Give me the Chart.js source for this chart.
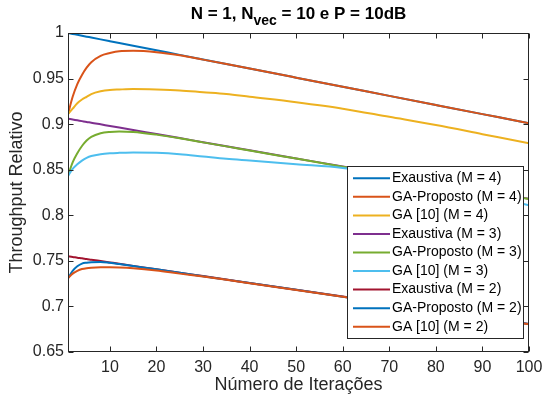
<!DOCTYPE html>
<html>
<head>
<meta charset="utf-8">
<script src="https://cdn.jsdelivr.net/npm/chart.js@4.4.1/dist/chart.umd.min.js"></script>
<style>
  html, body { margin: 0; padding: 0; background: #fff; }
  #wrap { width: 544px; height: 408px; }
</style>
</head>
<body>
<div id="wrap"><canvas id="thrChart" width="544" height="408"></canvas></div>
<script>
// iterations where each curve was sampled
const iterations = [1, 2, 3, 4, 5, 6, 8, 10, 12, 15, 20, 25, 30, 35, 40, 50, 60, 70, 80, 90, 100];

// M = 4
const exaustivaM4 = [1.000, 0.999, 0.998, 0.997, 0.996, 0.995, 0.993, 0.991, 0.989, 0.986, 0.981, 0.976, 0.971, 0.966, 0.961, 0.951, 0.941, 0.931, 0.921, 0.911, 0.901];
const gaPropostoM4 = [0.911, 0.930, 0.944, 0.954, 0.962, 0.968, 0.975, 0.978, 0.980, 0.9805, 0.979, 0.9755, 0.9708, 0.966, 0.961, 0.951, 0.941, 0.931, 0.921, 0.911, 0.901];
const ga10M4 = [0.911, 0.917, 0.923, 0.927, 0.930, 0.933, 0.936, 0.9375, 0.938, 0.9385, 0.938, 0.937, 0.935, 0.933, 0.930, 0.924, 0.917, 0.908, 0.899, 0.889, 0.879];

// M = 3
const exaustivaM3 = [0.9060, 0.9051, 0.9042, 0.9033, 0.9024, 0.9016, 0.8998, 0.8980, 0.8962, 0.8936, 0.8891, 0.8847, 0.8802, 0.8758, 0.8713, 0.8624, 0.8535, 0.8447, 0.8358, 0.8269, 0.8180];
const gaPropostoM3 = [0.8435, 0.858, 0.868, 0.876, 0.882, 0.886, 0.890, 0.8915, 0.892, 0.8915, 0.8885, 0.8845, 0.8800, 0.8756, 0.8711, 0.8622, 0.8533, 0.8445, 0.8356, 0.8267, 0.8178];
const ga10M3 = [0.843, 0.851, 0.856, 0.860, 0.863, 0.865, 0.867, 0.868, 0.8685, 0.869, 0.8685, 0.867, 0.8645, 0.862, 0.860, 0.856, 0.852, 0.845, 0.835, 0.823, 0.811];

// M = 2
const exaustivaM2 = [0.7550, 0.7543, 0.7535, 0.7528, 0.7520, 0.7513, 0.7498, 0.7483, 0.7468, 0.7445, 0.7408, 0.7370, 0.7333, 0.7295, 0.7258, 0.7183, 0.7108, 0.7033, 0.6958, 0.6883, 0.6808];
const gaPropostoM2 = [0.731, 0.739, 0.744, 0.747, 0.748, 0.7485, 0.7487, 0.7478, 0.7465, 0.7443, 0.7407, 0.7369, 0.7332, 0.7294, 0.7257, 0.7182, 0.7107, 0.7032, 0.6957, 0.6882, 0.6807];
const ga10M2 = [0.731, 0.736, 0.739, 0.741, 0.742, 0.7425, 0.743, 0.743, 0.7428, 0.742, 0.7395, 0.736, 0.7328, 0.7292, 0.7255, 0.718, 0.7105, 0.703, 0.6955, 0.688, 0.6805];

const seriesLabels = [
  'Exaustiva (M = 4)', 'GA-Proposto (M = 4)', 'GA [10] (M = 4)',
  'Exaustiva (M = 3)', 'GA-Proposto (M = 3)', 'GA [10] (M = 3)',
  'Exaustiva (M = 2)', 'GA-Proposto (M = 2)', 'GA [10] (M = 2)'
];
const seriesColors = ['#0072BD', '#D95319', '#EDB120', '#7E2F8E', '#77AC30', '#4DBEEE', '#A2142F', '#0072BD', '#D95319'];

const xTicks = [10, 20, 30, 40, 50, 60, 70, 80, 90, 100];
const yTicks = [0.65, 0.7, 0.75, 0.8, 0.85, 0.9, 0.95, 1];
const yTickLabels = ['0.65', '0.7', '0.75', '0.8', '0.85', '0.9', '0.95', '1'];

const FONT = '"Liberation Sans", Arial, Helvetica, sans-serif';
const AXIS_COLOR = '#262626';

const seriesValues = [exaustivaM4, gaPropostoM4, ga10M4, exaustivaM3, gaPropostoM3, ga10M3, exaustivaM2, gaPropostoM2, ga10M2];

const datasets = seriesValues.map((vals, i) => ({
  label: seriesLabels[i],
  data: iterations.map((it, k) => ({ x: it, y: vals[k] })),
  borderColor: seriesColors[i],
  backgroundColor: seriesColors[i],
  borderWidth: 2,
  pointRadius: 0,
  fill: false,
  cubicInterpolationMode: 'monotone',
  order: seriesValues.length - i // later series on top
}));

// box around the axes with inward tick marks on all four sides
const axesFrame = {
  id: 'axesFrame',
  afterDatasetsDraw(chart) {
    const { ctx, chartArea: a, scales: { x, y } } = chart;
    const L = Math.round(a.left) + 0.5, R = Math.round(a.right) - 0.5;
    const T = Math.round(a.top) + 0.5, B = Math.round(a.bottom) - 0.5;
    ctx.save();
    ctx.strokeStyle = AXIS_COLOR;
    ctx.lineWidth = 1;
    ctx.strokeRect(L, T, R - L, B - T);
    ctx.beginPath();
    x.ticks.forEach(t => {
      const px = Math.round(x.getPixelForValue(t.value)) + 0.5;
      ctx.moveTo(px, B); ctx.lineTo(px, B - 5);
      ctx.moveTo(px, T); ctx.lineTo(px, T + 5);
    });
    y.ticks.forEach(t => {
      const py = Math.round(y.getPixelForValue(t.value)) + 0.5;
      ctx.moveTo(L, py); ctx.lineTo(L + 5, py);
      ctx.moveTo(R, py); ctx.lineTo(R - 5, py);
    });
    ctx.stroke();
    ctx.restore();
  }
};

// title with subscript
const subTitle = {
  id: 'subTitle',
  afterDraw(chart) {
    const { ctx, chartArea: a } = chart;
    const parts = [
      { t: 'N = 1, N', f: 'bold 17px ' + FONT, dy: 0 },
      { t: 'vec', f: 'bold 14px ' + FONT, dy: 6 },
      { t: ' = 10 e P = 10dB', f: 'bold 17px ' + FONT, dy: 0 }
    ];
    ctx.save();
    ctx.fillStyle = '#000';
    ctx.textBaseline = 'alphabetic';
    let total = 0;
    parts.forEach(p => { ctx.font = p.f; p.w = ctx.measureText(p.t).width; total += p.w; });
    let cx = (a.left + a.right) / 2 - total / 2;
    parts.forEach(p => {
      ctx.font = p.f;
      ctx.fillText(p.t, cx, 19 + p.dy);
      cx += p.w;
    });
    ctx.restore();
  }
};

// legend box in the lower right corner of the axes
const boxLegend = {
  id: 'boxLegend',
  afterDraw(chart) {
    const { ctx, chartArea: a } = chart;
    const rowH = 18.55, w = 176, h = 172;
    const right = a.right - 6, bottom = a.bottom - 14;
    const left = Math.round(right - w), top = Math.round(bottom - h);
    ctx.save();
    ctx.fillStyle = '#fff';
    ctx.fillRect(left, top, w, h);
    ctx.strokeStyle = AXIS_COLOR;
    ctx.lineWidth = 1;
    ctx.strokeRect(left + 0.5, top + 0.5, w, h);
    ctx.font = '14px ' + FONT;
    ctx.textBaseline = 'middle';
    chart.data.datasets.forEach((ds, i) => {
      const cy = top + 12.3 + i * rowH;
      ctx.strokeStyle = ds.borderColor;
      ctx.lineWidth = 2;
      ctx.beginPath();
      ctx.moveTo(left + 6, cy);
      ctx.lineTo(left + 43, cy);
      ctx.stroke();
      ctx.fillStyle = '#000';
      ctx.fillText(ds.label, left + 45, cy);
    });
    ctx.restore();
  }
};

Chart.defaults.font.family = FONT;

new Chart(document.getElementById('thrChart'), {
  type: 'line',
  data: { datasets },
  options: {
    responsive: false,
    animation: false,
    devicePixelRatio: 1,
    layout: { padding: { top: 33, right: 15, left: 0, bottom: 0 } },
    plugins: {
      legend: { display: false },
      tooltip: { enabled: false },
      title: { display: false }
    },
    scales: {
      x: {
        type: 'linear',
        min: 1,
        max: 100,
        afterBuildTicks: s => { s.ticks = xTicks.map(v => ({ value: v })); },
        afterFit: s => { s.height = 56; s.paddingLeft = 0; s.paddingRight = 0; },
        grid: { display: false, drawTicks: false },
        border: { display: false },
        ticks: { color: AXIS_COLOR, font: { size: 16 }, padding: 6, maxRotation: 0 },
        title: {
          display: true,
          text: 'Número de Iterações',
          color: AXIS_COLOR,
          font: { size: 18 },
          padding: { top: 0, bottom: 12 }
        }
      },
      y: {
        type: 'linear',
        min: 0.65,
        max: 1,
        afterBuildTicks: s => { s.ticks = yTicks.map(v => ({ value: v })); },
        afterFit: s => { s.width = 68; },
        grid: { display: false, drawTicks: false },
        border: { display: false },
        ticks: {
          color: AXIS_COLOR,
          font: { size: 16 },
          padding: 4,
          callback: (v, i) => yTickLabels[i]
        },
        title: {
          display: true,
          text: 'Throughput Relativo',
          color: AXIS_COLOR,
          font: { size: 18 },
          padding: { top: 6, bottom: 0 }
        }
      }
    }
  },
  plugins: [axesFrame, subTitle, boxLegend]
});
</script>
</body>
</html>
